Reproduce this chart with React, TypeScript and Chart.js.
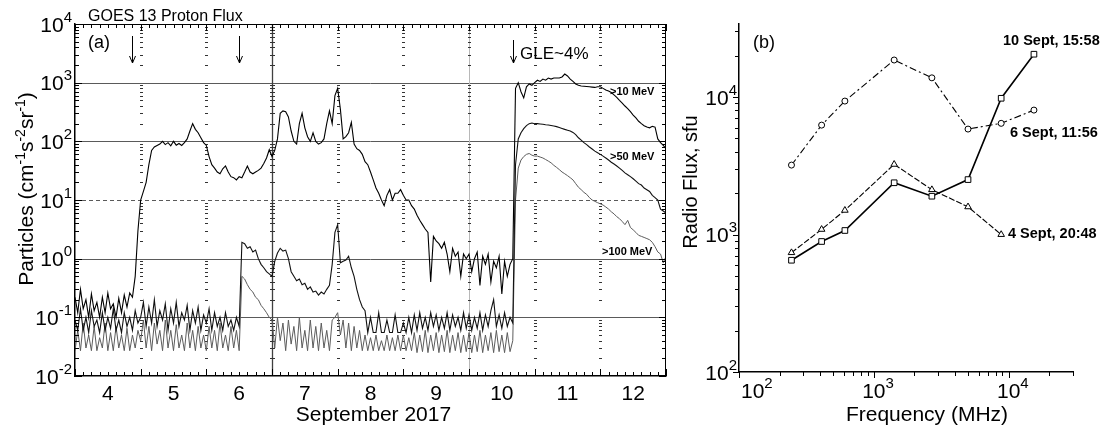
import React, { useEffect, useRef } from "react";
import { Chart, registerables } from "chart.js";

Chart.register(...registerables);

const FONT = "'Liberation Sans', Arial, Helvetica, sans-serif";

// ---------------- Panel (a): GOES 13 proton flux (hourly samples from 4 Sept 00 UT) ----------------
const seriesStartDay = 4;
const samplesPerDay = 24;
const dayTickLabels = ["4", "5", "6", "7", "8", "9", "10", "11", "12"];
const fluxTickExponents = [-2, -1, 0, 1, 2, 3, 4];
const thresholdLevels = [1000, 100, 1, 0.1];
const dashedLevels = [10];
const eventArrowDays = [4.87, 6.5, 10.665];

const gt10MeV = [
  0.22, 0.12, 0.3, 0.14, 0.2, 0.1, 0.25, 0.13, 0.18, 0.1, 0.22, 0.12, 0.26, 0.14, 0.17, 0.1, 0.21, 0.12, 0.24, 0.15, 0.26, 0.22, 0.5, 3,
  10, 14, 20, 40, 70, 80, 85, 90, 100, 88, 95, 84, 100, 86, 92, 85, 95, 110, 150, 200, 160, 140, 115, 95,
  85, 55, 40, 35, 30, 28, 34, 38, 30, 25, 24, 22, 25, 24, 30, 38, 30, 28, 30, 32, 35, 42, 52, 72,
  55, 70, 110, 300, 330, 320, 260, 150, 100, 90, 200, 300, 170, 120, 100, 140, 100, 90, 95, 110, 200, 330, 200, 600,
  800, 350, 110, 120, 140, 210, 90, 75, 70, 60, 45, 40, 30, 22, 16, 13, 10, 8, 12, 15, 10, 13, 13, 15,
  12, 10, 10, 8, 7, 5.5, 4.5, 3.8, 3.2, 2.8, 0.4, 2.4, 2, 1.8, 1.5, 1.9, 1.2, 0.6, 1.5, 1.1, 1.3, 0.5, 1.2, 1.0,
  1.2, 0.6, 1.0, 1.3, 0.35, 1.1, 0.8, 1.2, 0.4, 0.9, 0.7, 1.1, 0.25, 0.9, 0.5, 0.8, 1.0, 800, 1000, 700, 550, 850, 950, 900,
  1000, 1100, 1050, 1150, 1100, 1200, 1150, 1200, 1200, 1200, 1250, 1400, 1300, 1150, 1050, 950, 900, 880, 870, 860, 850, 840, 830, 850,
  850, 800, 750, 720, 680, 620, 560, 500, 450, 400, 360, 320, 280, 250, 220, 200, 185, 175, 170, 180, 175, 110, 95, 85, 75,
];

const gt50MeV = [
  0.09, 0.06, 0.14, 0.06, 0.1, 0.055, 0.13, 0.07, 0.09, 0.055, 0.12, 0.06, 0.1, 0.065, 0.14, 0.06, 0.09, 0.055, 0.12, 0.07, 0.1, 0.06, 0.13, 0.08,
  0.1, 0.18, 0.07, 0.15, 0.08, 0.2, 0.07, 0.13, 0.09, 0.17, 0.06, 0.14, 0.08, 0.18, 0.07, 0.12, 0.09, 0.16, 0.06, 0.13, 0.08, 0.15, 0.06, 0.11,
  0.08, 0.14, 0.06, 0.12, 0.07, 0.1, 0.06, 0.12, 0.07, 0.09, 0.06, 0.1, 0.07, 1.9, 1.8, 1.5, 1.6, 1.3, 1.4, 1.0, 0.8, 0.7, 0.6, 0.55,
  0.5, 0.9, 1.25, 1.5, 1.35, 1.4, 1.0, 0.6, 0.5, 0.42, 0.45, 0.36, 0.38, 0.3, 0.33, 0.27, 0.28, 0.24, 0.27, 0.25, 0.3, 0.35, 0.8, 2.8,
  3.8, 0.85, 0.9, 0.95, 1.1, 0.7, 0.5, 0.3, 0.2, 0.15, 0.13, 0.055, 0.1, 0.055, 0.055, 0.12, 0.055, 0.055, 0.09, 0.055, 0.055, 0.11, 0.055, 0.055,
  0.08, 0.055, 0.1, 0.055, 0.11, 0.06, 0.12, 0.065, 0.1, 0.06, 0.12, 0.07, 0.11, 0.06, 0.1, 0.065, 0.12, 0.06, 0.11, 0.07, 0.1, 0.06, 0.12, 0.065,
  0.11, 0.06, 0.1, 0.065, 0.12, 0.06, 0.11, 0.07, 0.13, 0.2, 0.07, 0.11, 0.065, 0.12, 0.07, 0.1, 0.08, 40, 110, 140, 165, 185, 200, 205,
  200, 200, 198, 195, 192, 190, 186, 182, 178, 172, 166, 160, 155, 150, 142, 130, 115, 105, 95, 88, 80, 74, 68, 64,
  60, 56, 52, 48, 44, 41, 38, 35, 32, 29, 27, 25, 23, 21, 19, 18, 16, 15, 14, 12, 11, 10, 7, 6.5, 6,
];

const gt100MeV = [
  0.027, 0.06, 0.027, 0.08, 0.03, 0.05, 0.027, 0.07, 0.027, 0.045, 0.03, 0.08, 0.027, 0.055, 0.027, 0.07, 0.03, 0.05, 0.027, 0.065, 0.027, 0.05, 0.03, 0.06,
  0.04, 0.09, 0.03, 0.07, 0.027, 0.08, 0.035, 0.06, 0.027, 0.09, 0.03, 0.06, 0.027, 0.075, 0.03, 0.05, 0.027, 0.08, 0.03, 0.06, 0.027, 0.07, 0.03, 0.05,
  0.027, 0.07, 0.03, 0.06, 0.027, 0.08, 0.03, 0.05, 0.027, 0.07, 0.03, 0.06, 0.027, 0.5, 0.45, 0.36, 0.3, 0.27, 0.22, 0.2, 0.16, 0.14, 0.12, 0.1,
  0.09, 0.03, 0.1, 0.04, 0.08, 0.027, 0.09, 0.035, 0.07, 0.027, 0.1, 0.03, 0.06, 0.027, 0.09, 0.03, 0.07, 0.027, 0.08, 0.03, 0.06, 0.027, 0.09, 0.1,
  0.12, 0.05, 0.09, 0.03, 0.08, 0.027, 0.07, 0.03, 0.06, 0.027, 0.05, 0.027, 0.045, 0.027, 0.05, 0.027, 0.04, 0.027, 0.05, 0.027, 0.045, 0.027, 0.05, 0.027,
  0.05, 0.027, 0.045, 0.027, 0.055, 0.025, 0.05, 0.026, 0.06, 0.025, 0.05, 0.027, 0.055, 0.025, 0.05, 0.026, 0.06, 0.025, 0.05, 0.027, 0.055, 0.025, 0.05, 0.026,
  0.055, 0.025, 0.05, 0.026, 0.06, 0.025, 0.05, 0.027, 0.055, 0.025, 0.06, 0.026, 0.05, 0.025, 0.055, 0.026, 0.04, 10, 35, 48, 55, 60, 62, 58,
  56, 56, 54, 52, 49, 46, 43, 39, 36, 33, 30, 28, 26, 24, 22, 19, 16.5, 15, 13.5, 12.5, 11, 10, 9.5, 9,
  8.6, 8.2, 7.6, 7, 6.3, 5.8, 5.2, 4.8, 4.3, 3.8, 4.5, 3.4, 3.1, 2.8, 2.5, 2.4, 2.3, 2.2, 2.1, 1.9, 1.6, 1.3, 1.2, 0.85, 1.1,
];

// ---------------- Panel (b): radio spectra ----------------
const frequenciesMHz = [245, 410, 610, 1415, 2695, 4995, 8800, 15400];
const sept6Flux = [3200, 6250, 9350, 18600, 13800, 5850, 6440, 8040];
const sept4Flux = [738, 1090, 1500, 3240, 2120, 1590, 1000];
const sept10Flux = [650, 890, 1070, 2380, 1900, 2510, 9800, 20500];
const freqTickExponents = [2, 3, 4];
const radioTickExponents = [2, 3, 4];

// ---------------- helpers ----------------
type Part = [string, number, number, boolean?];

function partsWidth(ctx: CanvasRenderingContext2D, parts: Part[]) {
  let w = 0;
  for (const [t, s, , b] of parts) {
    ctx.font = `${b ? "bold " : ""}${s}px ${FONT}`;
    w += ctx.measureText(t).width;
  }
  return w;
}

function drawParts(ctx: CanvasRenderingContext2D, parts: Part[], x: number, y: number, align: "left" | "center" | "right") {
  const w = partsWidth(ctx, parts);
  let cx = align === "left" ? x : align === "center" ? x - w / 2 : x - w;
  ctx.textAlign = "left";
  ctx.textBaseline = "alphabetic";
  for (const [t, s, r, b] of parts) {
    ctx.font = `${b ? "bold " : ""}${s}px ${FONT}`;
    ctx.fillText(t, cx, y - r);
    cx += ctx.measureText(t).width;
  }
}

function powerParts(exp: number): Part[] {
  return [["10", 21, 0], [String(exp), 15, 10]];
}

function line(ctx: CanvasRenderingContext2D, x1: number, y1: number, x2: number, y2: number) {
  ctx.beginPath();
  ctx.moveTo(x1, y1);
  ctx.lineTo(x2, y2);
  ctx.stroke();
}

function arrow(ctx: CanvasRenderingContext2D, x: number, y0: number, y1: number) {
  line(ctx, x, y0, x, y1);
  ctx.beginPath();
  ctx.moveTo(x - 3, y1 - 7);
  ctx.lineTo(x, y1);
  ctx.lineTo(x + 3, y1 - 7);
  ctx.stroke();
}

function logMarks(minExp: number, maxValue: number) {
  const out: { v: number; major: boolean }[] = [];
  for (let e = minExp; e <= 5; e++) {
    for (let k = 1; k <= 9; k++) {
      const v = k * Math.pow(10, e);
      if (v <= maxValue * 1.0001) out.push({ v, major: k === 1 });
    }
  }
  return out;
}

const panelAPlugin = {
  id: "panelA",
  beforeDatasetsDraw(chart: any) {
    const { ctx, chartArea: a, scales } = chart;
    const x = scales.x;
    const y = scales.y;
    ctx.save();
    ctx.strokeStyle = "#5a5a5a";
    ctx.lineWidth = 1;
    for (const v of thresholdLevels) {
      const py = Math.round(y.getPixelForValue(v)) + 0.5;
      line(ctx, a.left, py, a.right, py);
    }
    ctx.setLineDash([4, 3]);
    for (const v of dashedLevels) {
      const py = Math.round(y.getPixelForValue(v)) + 0.5;
      line(ctx, a.left, py, a.right, py);
    }
    ctx.setLineDash([]);
    const marks = logMarks(-2, 10000);
    for (let d = 5; d <= 12; d++) {
      const px = Math.round(x.getPixelForValue(d)) + 0.5;
      if (d === 7) {
        ctx.strokeStyle = "#404040";
        ctx.lineWidth = 1.3;
        line(ctx, px, a.top, px, a.bottom);
      } else if (d === 10) {
        ctx.strokeStyle = "#b8b8b8";
        ctx.lineWidth = 1;
        line(ctx, px, a.top, px, a.bottom);
      }
      ctx.strokeStyle = "#333";
      ctx.lineWidth = 1;
      const half = d === 7 ? 2.5 : 1.5;
      for (const m of marks) {
        if (m.major) continue;
        const py = Math.round(y.getPixelForValue(m.v)) + 0.5;
        line(ctx, px - half, py, px + half, py);
      }
    }
    ctx.restore();
  },
  afterDraw(chart: any) {
    const { ctx, chartArea: a, scales } = chart;
    const x = scales.x;
    const y = scales.y;
    ctx.save();
    ctx.strokeStyle = "#000";
    ctx.lineWidth = 1;
    line(ctx, a.left, a.top + 0.5, a.right, a.top + 0.5);
    line(ctx, a.right - 0.5, a.top, a.right - 0.5, a.bottom);
    for (let i = 0; i <= 72; i++) {
      const t = 4 + i / 8;
      const px = Math.round(x.getPixelForValue(t)) + 0.5;
      const len = i % 8 === 0 ? 7 : 4;
      line(ctx, px, a.bottom, px, a.bottom - len);
      line(ctx, px, a.top, px, a.top + len);
    }
    for (const m of logMarks(-2, 10000)) {
      const py = Math.round(y.getPixelForValue(m.v)) + 0.5;
      const len = m.major ? 7 : 4;
      line(ctx, a.left, py, a.left + len, py);
      line(ctx, a.right, py, a.right - len, py);
    }
    ctx.fillStyle = "#000";
    fluxTickExponents.forEach((e) => {
      const py = y.getPixelForValue(Math.pow(10, e));
      drawParts(ctx, powerParts(e), a.left - 3, py + 7.5, "right");
    });
    dayTickLabels.forEach((lab, i) => {
      const px = x.getPixelForValue(seriesStartDay + 0.5 + i);
      drawParts(ctx, [[lab, 21, 0]], px, 400, "center");
    });
    drawParts(ctx, [["September 2017", 21, 0]], (a.left + a.right) / 2 + 3, 421, "center");
    ctx.save();
    ctx.translate(33, 189);
    ctx.rotate(-Math.PI / 2);
    drawParts(
      ctx,
      [
        ["Particles (cm", 21, 0],
        ["-1", 14, 8],
        ["s", 21, 0],
        ["-2", 14, 8],
        ["sr", 21, 0],
        ["-1", 14, 8],
        [")", 21, 0],
      ],
      0,
      0,
      "center"
    );
    ctx.restore();
    drawParts(ctx, [["GOES 13 Proton Flux", 16, 0]], 88, 21, "left");
    drawParts(ctx, [["(a)", 18, 0]], 88, 48, "left");
    drawParts(ctx, [["GLE~4%", 17, 0]], 520, 59, "left");
    drawParts(ctx, [[">10 MeV", 11, 0, true]], 610, 95, "left");
    drawParts(ctx, [[">50 MeV", 11, 0, true]], 610, 160, "left");
    drawParts(ctx, [[">100 MeV", 11, 0, true]], 602, 255, "left");
    ctx.strokeStyle = "#000";
    ctx.lineWidth = 1;
    eventArrowDays.forEach((d, i) => {
      const px = Math.round(x.getPixelForValue(d)) + 0.5;
      arrow(ctx, px, i === 2 ? 40 : 36, 63);
    });
    ctx.restore();
  },
};

const panelBPlugin = {
  id: "panelB",
  afterDraw(chart: any) {
    const { ctx, chartArea: a, scales } = chart;
    const x = scales.x;
    const y = scales.y;
    ctx.save();
    ctx.strokeStyle = "#000";
    ctx.lineWidth = 1;
    for (const m of logMarks(2, 34000)) {
      const py = Math.round(y.getPixelForValue(m.v)) + 0.5;
      const len = m.major ? 6 : 4;
      line(ctx, a.left - len, py, a.left, py);
    }
    for (const m of logMarks(2, 30000)) {
      const px = Math.round(x.getPixelForValue(m.v)) + 0.5;
      const len = m.major ? 6 : 4;
      line(ctx, px, a.bottom, px, a.bottom + len);
    }
    ctx.fillStyle = "#000";
    radioTickExponents.forEach((e) => {
      const py = y.getPixelForValue(Math.pow(10, e));
      drawParts(ctx, powerParts(e), a.left - 2, py + 7.5, "right");
    });
    freqTickExponents.forEach((e, i) => {
      const px = x.getPixelForValue(Math.pow(10, e));
      ctx.font = `21px ${FONT}`;
      const w10 = ctx.measureText("10").width;
      const start = i === 0 ? px + 2 : px - w10 / 2;
      drawParts(ctx, powerParts(e), start, 398, "left");
    });
    drawParts(ctx, [["Frequency (MHz)", 21, 0]], a.left + 188, 421, "center");
    ctx.save();
    ctx.translate(17, 182);
    ctx.rotate(-Math.PI / 2);
    drawParts(ctx, [["Radio Flux, sfu", 20, 0]], 0, 0, "center");
    ctx.restore();
    drawParts(ctx, [["(b)", 18, 0]], a.left + 14, 48, "left");
    drawParts(ctx, [["10 Sept, 15:58", 14.5, 0, true]], a.left + 264, 45, "left");
    drawParts(ctx, [["6 Sept, 11:56", 14.5, 0, true]], a.left + 271, 137, "left");
    drawParts(ctx, [["4 Sept, 20:48", 14.5, 0, true]], a.left + 269, 238, "left");
    ctx.restore();
  },
};

function toPoints(values: number[]) {
  return values.map((v, i) => ({ x: seriesStartDay + i / samplesPerDay, y: v }));
}

function spectrum(values: number[]) {
  return values.map((v, i) => ({ x: frequenciesMHz[i], y: v }));
}

export default function App() {
  const leftRef = useRef<HTMLCanvasElement>(null);
  const rightRef = useRef<HTMLCanvasElement>(null);

  useEffect(() => {
    Chart.defaults.font.family = FONT;
    const left = new Chart(leftRef.current as HTMLCanvasElement, {
      type: "line",
      data: {
        datasets: [
          { label: ">10 MeV", data: toPoints(gt10MeV), borderColor: "#000", borderWidth: 1.1 },
          { label: ">50 MeV", data: toPoints(gt50MeV), borderColor: "#111", borderWidth: 1.1 },
          { label: ">100 MeV", data: toPoints(gt100MeV), borderColor: "#5c5c5c", borderWidth: 1 },
        ],
      } as any,
      options: {
        animation: false,
        responsive: false,
        maintainAspectRatio: false,
        layout: { padding: { left: 0, right: 14, top: 24, bottom: 0 } },
        elements: { point: { radius: 0 }, line: { tension: 0 } },
        plugins: { legend: { display: false }, tooltip: { enabled: false } },
        scales: {
          x: {
            type: "linear",
            min: 4,
            max: 13,
            grid: { display: false, drawTicks: false },
            border: { display: true, color: "#000", width: 1.5 },
            ticks: { display: false },
            afterFit: (s: any) => {
              s.height = 56;
            },
          },
          y: {
            type: "logarithmic",
            min: 0.01,
            max: 10000,
            grid: { display: false, drawTicks: false },
            border: { display: true, color: "#000", width: 1.5 },
            ticks: { display: false },
            afterFit: (s: any) => {
              s.width = 75;
            },
          },
        },
      } as any,
      plugins: [panelAPlugin],
    });

    const right = new Chart(rightRef.current as HTMLCanvasElement, {
      type: "line",
      data: {
        datasets: [
          {
            label: "10 Sept, 15:58",
            data: spectrum(sept10Flux),
            borderColor: "#000",
            borderWidth: 1.6,
            pointStyle: "rect",
            pointRadius: 4,
            pointBorderWidth: 1,
            pointBackgroundColor: "#fff",
            pointBorderColor: "#000",
          },
          {
            label: "4 Sept, 20:48",
            data: spectrum(sept4Flux),
            borderColor: "#000",
            borderWidth: 1.1,
            borderDash: [6, 2],
            pointStyle: "triangle",
            pointRadius: 3.8,
            pointBorderWidth: 1,
            pointBackgroundColor: "#fff",
            pointBorderColor: "#000",
          },
          {
            label: "6 Sept, 11:56",
            data: spectrum(sept6Flux),
            borderColor: "#000",
            borderWidth: 1.1,
            borderDash: [7, 3, 2, 3],
            pointStyle: "circle",
            pointRadius: 3,
            pointBorderWidth: 1,
            pointBackgroundColor: "#fff",
            pointBorderColor: "#000",
          },
        ],
      } as any,
      options: {
        animation: false,
        responsive: false,
        maintainAspectRatio: false,
        layout: { padding: { left: 0, right: 36, top: 24, bottom: 0 } },
        elements: { line: { tension: 0 } },
        plugins: { legend: { display: false }, tooltip: { enabled: false } },
        scales: {
          x: {
            type: "logarithmic",
            min: 100,
            max: 30000,
            grid: { display: false, drawTicks: false },
            border: { display: true, color: "#000", width: 1.5 },
            ticks: { display: false },
            afterFit: (s: any) => {
              s.height = 60;
            },
          },
          y: {
            type: "logarithmic",
            min: 100,
            max: 34000,
            grid: { display: false, drawTicks: false },
            border: { display: true, color: "#000", width: 1.5 },
            ticks: { display: false },
            afterFit: (s: any) => {
              s.width = 59;
            },
          },
        },
      } as any,
      plugins: [panelBPlugin],
    });

    return () => {
      left.destroy();
      right.destroy();
    };
  }, []);

  return (
    <div style={{ position: "absolute", left: 0, top: 0, width: 1109, height: 432, background: "#fff" }}>
      <canvas ref={leftRef} width={680} height={432} style={{ position: "absolute", left: 0, top: 0 }} />
      <canvas ref={rightRef} width={429} height={432} style={{ position: "absolute", left: 680, top: 0 }} />
    </div>
  );
}
